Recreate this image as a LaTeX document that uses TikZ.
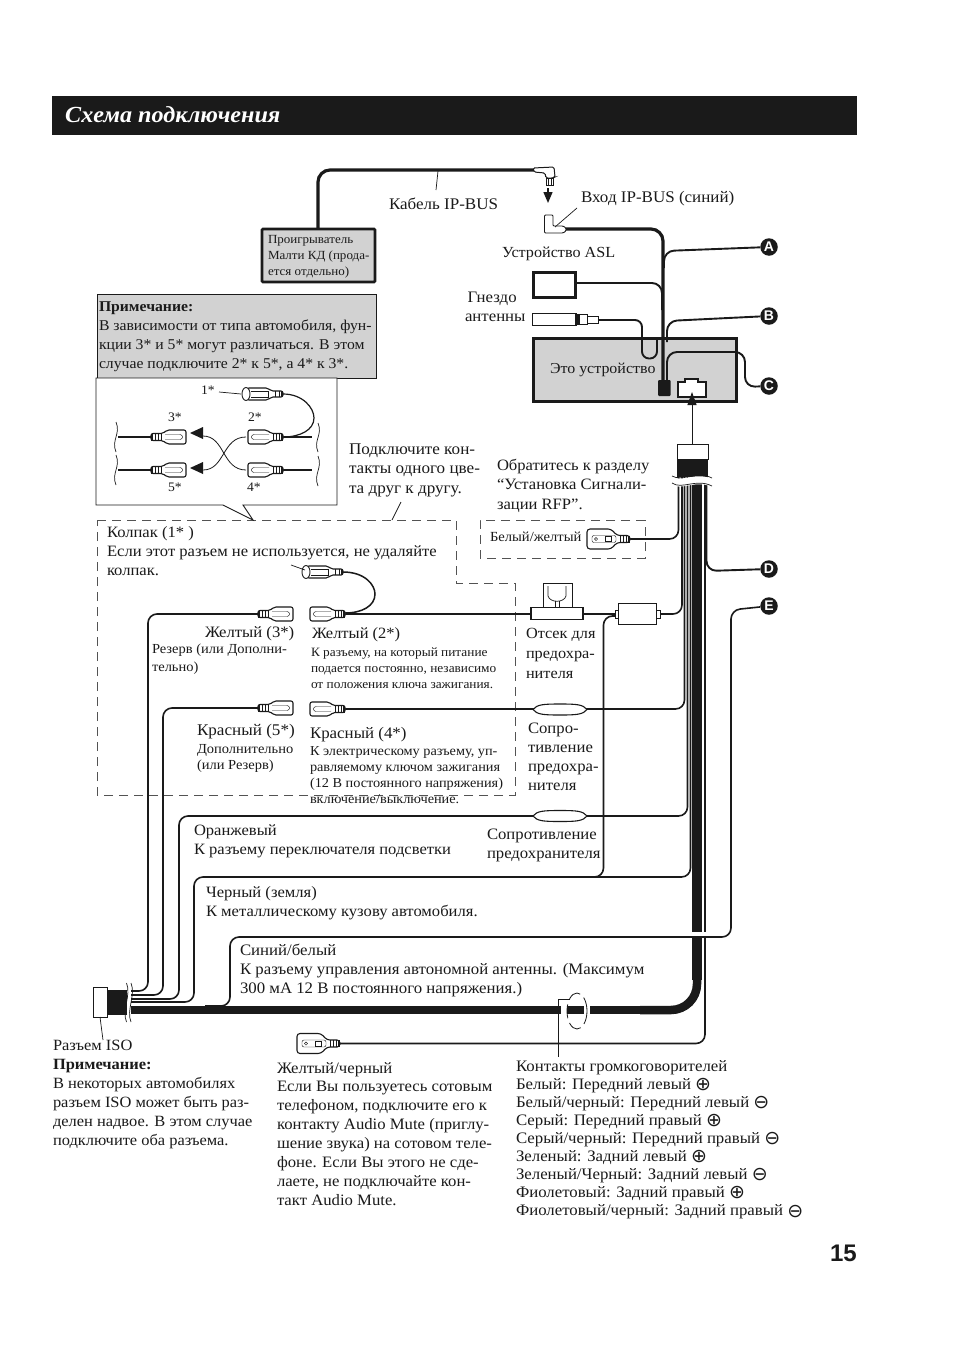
\documentclass[tikz,border=0pt]{standalone}
\usepackage{fontspec}
\setmainfont[FakeStretch=1.05]{Liberation Serif}
\newfontfamily\djvfont{DejaVu Sans}
\newfontfamily\lsans{Liberation Sans}
\usetikzlibrary{arrows.meta}
\definecolor{ink}{HTML}{1A1A1A}
\definecolor{panel}{HTML}{D2D2D2}
\tikzset{
  wire/.style={draw=ink,line width=1.9pt,rounded corners=10pt},
  thinwire/.style={draw=ink,line width=1.6pt,rounded corners=9pt},
  fatwire/.style={draw=ink,line width=3.2pt,rounded corners=12pt},
  lead/.style={draw=ink,line width=0.7pt},
  dashbox/.style={draw=ink!75,line width=0.8pt,dash pattern=on 9pt off 6pt},
  part/.style={draw=ink,fill=white,line width=1pt},
  txt/.style={inner sep=0pt,outer sep=0pt,align=left,text=ink,font=\fontsize{15.9}{18.9}\selectfont},
  badge/.style={circle,fill=ink,text=white,inner sep=0pt,minimum size=17.5pt,font=\lsans\bfseries\fontsize{14}{14}\selectfont},
}
\newcommand\blk[5][]{\node[txt,anchor=north west,#1] (#2) at (#3,#4-12) {\rule{0pt}{12pt}#5};}
\newcommand\oplusg{\smash{\raisebox{-1.2pt}{\djvfont\fontsize{19}{19}\selectfont⊕}}}
\newcommand\ominusg{\smash{\raisebox{-1.2pt}{\djvfont\fontsize{19}{19}\selectfont⊖}}}
\newcommand\tubeplug[3]{\begin{scope}[shift={(#1,#2)},xscale=#3]
 \draw[part,line width=1.1pt,rounded corners=2pt] (0,-3.5)--(-12,-3.5)--(-16,-7)--(-35,-7)--(-35,7)--(-16,7)--(-12,3.5)--(0,3.5)--cycle;
 \draw[ink,line width=.45pt] (-4,-3.5)--(-4,3.5) (-7,-3.5)--(-7,3.5) (-10,-3.5)--(-10,3.5);
 \draw[ink,line width=.45pt,rounded corners=1pt] (-14,-2.5)--(-30,-2.5)--(-32,0)--(-30,2.5)--(-14,2.5);
 \fill[ink] (-2,-3.5) rectangle (0,3.5);
\end{scope}}
\newcommand\capplug[2]{\begin{scope}[shift={(#1,#2)}]
 \draw[part,line width=1.1pt,rounded corners=2pt] (0,-3)--(-12,-3)--(-15,-6)--(-36,-6)--(-36,6)--(-15,6)--(-12,3)--(0,3)--cycle;
 \draw[part,line width=.9pt] (-37,0) ellipse (4pt and 6.5pt);
 \draw[ink,line width=.45pt] (-4,-3)--(-4,3) (-8,-3)--(-8,3) (-32,-3)--(-15,-3)--(-15,3)--(-32,3);
 \fill[ink] (-2,-3) rectangle (0,3);
\end{scope}}
\newcommand\flatcon[2]{\begin{scope}[shift={(#1,#2)}]
 \draw[part,line width=1.1pt,rounded corners=3pt] (0,-3.5)--(-13,-3.5)--(-19,-10)--(-43,-10)--(-43,10)--(-19,10)--(-13,3.5)--(0,3.5)--cycle;
 \draw[ink,line width=.45pt] (-4,-3.5)--(-4,3.5) (-7,-3.5)--(-7,3.5) (-10,-3.5)--(-10,3.5) (-25,-2.5) rectangle (-19,2.5);
 \draw[ink,line width=.5pt] (-34,0) circle (1.6pt);
 \draw[ink,line width=.45pt,rounded corners=2pt] (-38,-3.5) rectangle (-14,3.5);
 \fill[ink] (-2,-3.5) rectangle (0,3.5);
\end{scope}}
\newcommand\lens[2]{\draw[part,line width=1.1pt] (#1,#2) .. controls (#1+4,#2-5) and (#1+10,#2-5.5) .. (#1+27,#2-5.5) .. controls (#1+44,#2-5.5) and (#1+50,#2-5) .. (#1+54,#2) .. controls (#1+50,#2+5) and (#1+44,#2+5.5) .. (#1+27,#2+5.5) .. controls (#1+10,#2+5.5) and (#1+4,#2+5) .. (#1,#2) -- cycle;}
\newcommand\vwave[3]{\draw[ink,line width=.7pt] (#1,#2) .. controls (#1+5,#2+12) and (#1-5,#3-12) .. (#1,#3);}
\begin{document}
\begin{tikzpicture}[x=1pt,y=-1pt]
\useasboundingbox (0,0) rectangle (954,1352);
\fill[white] (0,0) rectangle (954,1352);
% title
\fill[ink] (52,96) rectangle (857,135);
\node[inner sep=0pt,anchor=base west,text=white,font=\bfseries\itshape\fontsize{23}{23}\selectfont] (title) at (65,122) {Схема подключения};
\node[inner sep=0pt,anchor=base east,text=ink,font=\lsans\bfseries\fontsize{24}{24}\selectfont] (pagenum) at (857,1261) {15};

% dashed regions
\draw[dashbox] (97,520)--(456,520)--(456,583)--(515,583)--(515,795)--(97,795)--cycle;
\draw[dashbox] (645,520)--(480,520)--(480,558)--(645,558)--cycle;

% badges
\node[badge] (A) at (769,247) {A};
\node[badge] (B) at (769,316) {B};
\node[badge] (C) at (769,386) {C};
\node[badge] (D) at (769,569) {D};
\node[badge] (E) at (769,606) {E};

% player + IP-BUS cable
\draw[fatwire] (318,230)--(318,170)--(535,170);
\node[draw=ink,fill=panel,line width=2.6pt,rounded corners=1pt,outer sep=0pt,minimum width=113pt,minimum height=53pt,inner sep=0pt,anchor=north west] (player) at (262,229) {};
\blk[font=\fontsize{12.4}{16}\selectfont]{playertxt}{268}{243}{Проигрыватель\\Малти КД (прода-\\ется отдельно)}
\draw[part,rounded corners=1.5pt] (533,168)--(554,167)--(555,177)--(553,178)--(546,178)--(545,173)--(534,172)--cycle;
\draw[part,line width=.7pt] (546,178) rectangle (553,185);
\draw[ink,line width=.5pt] (548.5,178)--(548.5,185) (551,178)--(551,185);
\draw[ink,line width=1.4pt,-{Triangle[length=11pt,width=9pt]}] (548,188)--(548,203);
\coordinate (aslport) at (566,229);
\draw[part,line width=.9pt,rounded corners=1pt] (544.5,215)--(553,215)--(553,226)--(563,226)--(566,228)--(566,231)--(563,233)--(550,233)--(544.5,233)--cycle;
\draw[lead] (577,208)--(555,227);
\draw[lead] (438,171)--(436,190);

% unit
\node[draw=ink,fill=panel,line width=2.4pt,outer sep=0pt,minimum width=203pt,minimum height=63pt,inner sep=0pt,anchor=north west] (unit) at (533.5,338.5) {};
\blk[font=\fontsize{15.2}{18}\selectfont]{unittxt}{550}{373}{Это устройство}
\draw[ink,line width=1.6pt,fill=white] (678,397)--(678,382)--(685,382)--(685,379)--(698,379)--(698,382)--(706,382)--(706,397)--cycle;
\draw[fatwire] (aslport)--(663,229)--(663,385);
\draw[wire] (664,268)--(664,251)--(A);
\node[draw=ink,fill=white,line width=2.6pt,outer sep=0pt,minimum width=42pt,minimum height=25pt,inner sep=0pt,anchor=north west] (asl) at (533.5,272.5) {};
\draw[wire] (576,283)--(662,283)--(662,310);
\draw[wire,rounded corners=7pt] (598,320)--(642,320)--(642,358.5)--(657,358.5)--(657,340);
\draw[wire] (667,342)--(667,321)--(B);
\draw[wire] (667,385)--(667,352)--(745,352)--(745,387)--(C);
\fill[ink,rounded corners=1pt] (658,380) rectangle (670.5,396);
% antenna
\draw[part,line width=.9pt] (532,313.5) rectangle (576,325);
\draw[part,line width=.9pt] (576,314.5) rectangle (587,324.5);
\fill[ink] (575,314) rectangle (580,325);
\draw[part,line width=.8pt] (587,316.5) rectangle (598,323.5);

% arrow into unit socket
\draw[ink,line width=.9pt,-{Triangle[length=13pt,width=9pt]}] (692,444)--(692,392);

% harness verticals
\draw[ink,line width=10pt] (697,470)--(697,980);
\draw[thinwire] (705,470)--(705,1043.5)--(339,1043.5);
\draw[wire] (706.5,470)--(706.5,571)--(D);
\draw[white,line width=.8pt] (702.6,485)--(702.6,930);
\draw[ink,line width=8.5pt,rounded corners=26pt] (697,960)--(697,1010)--(640,1010);
\draw[ink,line width=7.5pt] (650,1010)--(128,1010);
\draw[thinwire] (690.5,470)--(690.5,877)--(194,877)--(194,1002)--(128,1002);
\draw[thinwire] (687.5,470)--(687.5,816)--(179,816)--(179,999)--(128,999);
\draw[thinwire] (684.5,470)--(684.5,709)--(345,709);
\draw[thinwire] (682,470)--(682,614)--(345,614);
\draw[thinwire] (678.5,470)--(678.5,539)--(630,539);
\draw[thinwire] (617,616)--(603.5,616)--(603.5,877)--(585,877);
% E wire over everything
\draw[white,line width=5pt] (675,934.5)--(728,934.5);
\draw[thinwire] (E)--(731,610)--(731,937)--(230,937)--(230,1006)--(205,1006);
% left branches
\draw[thinwire] (258,614)--(148,614)--(148,991)--(128,991);
\draw[thinwire] (258,708)--(163,708)--(163,995)--(128,995);

% top harness block
\draw[ink,fill=white,line width=.9pt] (677,444) rectangle (708,459);
\fill[ink] (677,459) rectangle (708,477);
\fill[white] (670,476) .. controls (682,484) and (696,470) .. (714,480) -- (714,488) .. controls (696,478) and (682,492) .. (670,484) -- cycle;
\draw[ink,line width=.7pt] (672,476) .. controls (682,482) and (696,470) .. (712,478);
\draw[ink,line width=.7pt] (672,483) .. controls (682,490) and (696,478) .. (712,486);

% ISO connector
\fill[ink] (107,990) rectangle (128,1015);
\fill[white] (126.5,985) rectangle (131,1022);
\vwave{126.5}{983}{1022}
\vwave{131}{983}{1022}
\draw[ink,fill=white,line width=.9pt] (93,987) rectangle (107,1017);
\draw[lead] (100,1017)--(103,1040);

% speaker break
\fill[white] (561,1004) rectangle (567,1016);
\fill[white] (584,1004) rectangle (590,1016);
\draw[ink,line width=.8pt,dash pattern=on 14pt off 5pt] (577,1011) ellipse (10pt and 18pt);
\draw[lead] (570,999)--(558,999)--(558,1057);

% fuse parts
\draw[part,line width=.9pt] (543,583) rectangle (572,607);
\draw[ink,line width=.7pt] (548,586)--(548,596) .. controls (550,603) and (564,603) .. (566,596)--(566,586);
\draw[ink,line width=.7pt] (555,601)--(555,607) (559,601)--(559,607);
\draw[part,line width=1.8pt] (531,607.5) rectangle (583,619.5);
\draw[part,line width=.8pt] (615,610) rectangle (619,618);
\draw[part,line width=.8pt] (656,610) rectangle (660,618);
\draw[part,line width=.8pt] (618,603) rectangle (656,624);
\lens{533}{709.5}
\lens{533}{816}

% connectors main
\draw[ink,line width=1.5pt] (343,572) .. controls (365,572) and (375,585) .. (375,594) .. controls (375,606) and (362,613) .. (345,613);
\capplug{343}{572}
\draw[lead] (291,565)--(305,570);
\tubeplug{345}{614}{1}
\tubeplug{258}{614}{-1}
\tubeplug{345}{709}{1}
\tubeplug{258}{708}{-1}
\flatcon{630}{539}
\flatcon{340}{1043.5}

% note + inset
\node[draw=ink,fill=panel,line width=.9pt,outer sep=0pt,minimum width=279pt,minimum height=84pt,inner sep=0pt,anchor=north west] (note) at (97,294) {};
\blk[font=\fontsize{14.95}{19.2}\selectfont]{notetxt}{99}{311}{\textbf{Примечание:}\\В зависимости от типа автомобиля, фун-\\кции 3* и 5* могут различаться. В этом\\случае подключите 2* к 5*, а 4* к 3*.}
\draw[draw=ink,fill=white,line width=.9pt] (96,378)--(337,378)--(337,505)--(243,505)--(253,520)--(223,505)--(96,505)--cycle;
\draw[ink,line width=1.4pt] (118,437)--(152,437) (118,470)--(152,470) (283,437)--(312,437) (283,470)--(312,470);
\draw[ink,line width=1.2pt] (283,394) .. controls (303,394) and (314,408) .. (314,418) .. controls (314,430) and (300,437) .. (283,437);
\capplug{283}{394}
\draw[lead] (219,392)--(241,394);
\tubeplug{283}{437}{1}
\tubeplug{283}{470}{1}
\tubeplug{151}{437}{-1}
\tubeplug{151}{470}{-1}
\fill[ink] (190,433)--(203,427)--(203,439)--cycle;
\fill[ink] (190,468)--(203,462)--(203,474)--cycle;
\draw[ink,line width=.8pt] (203,436) .. controls (225,436) and (222,470) .. (246,470);
\draw[ink,line width=.8pt] (203,470) .. controls (225,470) and (222,437) .. (246,437);
\vwave{116}{422}{452}
\vwave{116}{455}{485}
\vwave{318}{423}{452}
\vwave{318}{456}{486}

% texts
\blk[font=\fontsize{16.2}{19}\selectfont]{cabletxt}{389}{209}{Кабель IP-BUS}
\blk[font=\fontsize{16.2}{19}\selectfont]{iptxt}{581}{202}{Вход IP-BUS (синий)}
\blk[font=\fontsize{15.4}{19}\selectfont]{asltxt}{502}{257}{Устройство ASL}
\blk[font=\fontsize{16}{19}\selectfont]{anttxt}{465}{302}{\,Гнездо\\антенны}
\blk[font=\fontsize{13}{13}\selectfont]{n1}{201}{394}{1*}
\blk[font=\fontsize{13}{13}\selectfont]{n3}{168}{421}{3*}
\blk[font=\fontsize{13}{13}\selectfont]{n2}{248}{421}{2*}
\blk[font=\fontsize{13}{13}\selectfont]{n5}{168}{491}{5*}
\blk[font=\fontsize{13}{13}\selectfont]{n4}{247}{491}{4*}
\blk[font=\fontsize{16.3}{19.6}\selectfont]{jointxt}{349}{454}{Подключите кон-\\такты одного цве-\\та друг к другу.}
\draw[lead] (401,502)--(392,520);
\blk[font=\fontsize{15.8}{19.6}\selectfont]{rfptxt}{497}{470}{Обратитесь к разделу\\“Установка Сигнали-\\зации RFP”.}
\blk[font=\fontsize{13.9}{14}\selectfont]{wytxt}{490}{541}{Белый/желтый}
\blk[font=\fontsize{15.8}{19}\selectfont]{captxt}{107}{537}{Колпак (1* )\\Если этот разъем не используется, не удаляйте\\колпак.}
\blk{y3}{205}{637}{Желтый (3*)}
\blk[font=\fontsize{13.8}{18}\selectfont]{y3t}{152}{653}{Резерв (или Дополни-\\тельно)}
\blk[font=\fontsize{15.7}{19}\selectfont]{y2}{312}{638}{Желтый (2*)}
\blk[font=\fontsize{12.7}{16.2}\selectfont]{y2t}{311}{656}{К разъему, на который питание\\подается постоянно, независимо\\от положения ключа зажигания.}
\blk[font=\fontsize{15.5}{20}\selectfont]{fusetxt}{526}{638}{Отсек для\\предохра-\\нителя}
\blk[font=\fontsize{16.3}{19}\selectfont]{r5}{197}{735}{Красный (5*)}
\blk[font=\fontsize{13.8}{16.5}\selectfont]{r5t}{197}{753}{Дополнительно\\(или Резерв)}
\blk[font=\fontsize{16.1}{19}\selectfont]{r4}{310}{738}{Красный (4*)}
\blk[font=\fontsize{13.6}{16}\selectfont]{r4t}{310}{755}{К электрическому разъему, уп-\\равляемому ключом зажигания\\(12 В постоянного напряжения)\\включение/выключение.}
\blk[font=\fontsize{15.9}{19}\selectfont]{restxt}{528}{733}{Сопро-\\тивление\\предохра-\\нителя}
\blk[font=\fontsize{15.75}{19.5}\selectfont]{orange}{194}{835}{Оранжевый\\К разъему переключателя подсветки}
\blk[font=\fontsize{15.9}{19}\selectfont]{res2}{487}{839}{Сопротивление\\предохранителя}
\blk[font=\fontsize{15.8}{19}\selectfont]{blacktxt}{206}{897}{Черный (земля)\\К металлическому кузову автомобиля.}
\blk[font=\fontsize{16}{19}\selectfont]{bluew}{240}{955}{Синий/белый\\К разъему управления автономной антенны. (Максимум\\300 мА 12 В постоянного напряжения.)}
\blk[font=\fontsize{15.65}{19}\selectfont]{iso}{53}{1050.5}{Разъем ISO\\\textbf{Примечание:}\\В некоторых автомобилях\\разъем ISO может быть раз-\\делен надвое. В этом случае\\подключите оба разъема.}
\blk{ym}{277}{1073}{Желтый/черный\\Если Вы пользуетесь сотовым\\телефоном, подключите его к\\контакту Audio Mute (приглу-\\шение звука) на сотовом теле-\\фоне. Если Вы этого не сде-\\лаете, не подключайте кон-\\такт Audio Mute.}
\blk[font=\fontsize{16}{18.1}\selectfont]{spk}{516}{1071}{Контакты громкоговорителей\\Белый: Передний левый \oplusg\\Белый/черный: Передний левый \ominusg\\Серый: Передний правый \oplusg\\Серый/черный: Передний правый \ominusg\\Зеленый: Задний левый \oplusg\\Зеленый/Черный: Задний левый \ominusg\\Фиолетовый: Задний правый \oplusg\\Фиолетовый/черный: Задний правый \ominusg}
\end{tikzpicture}
\end{document}
